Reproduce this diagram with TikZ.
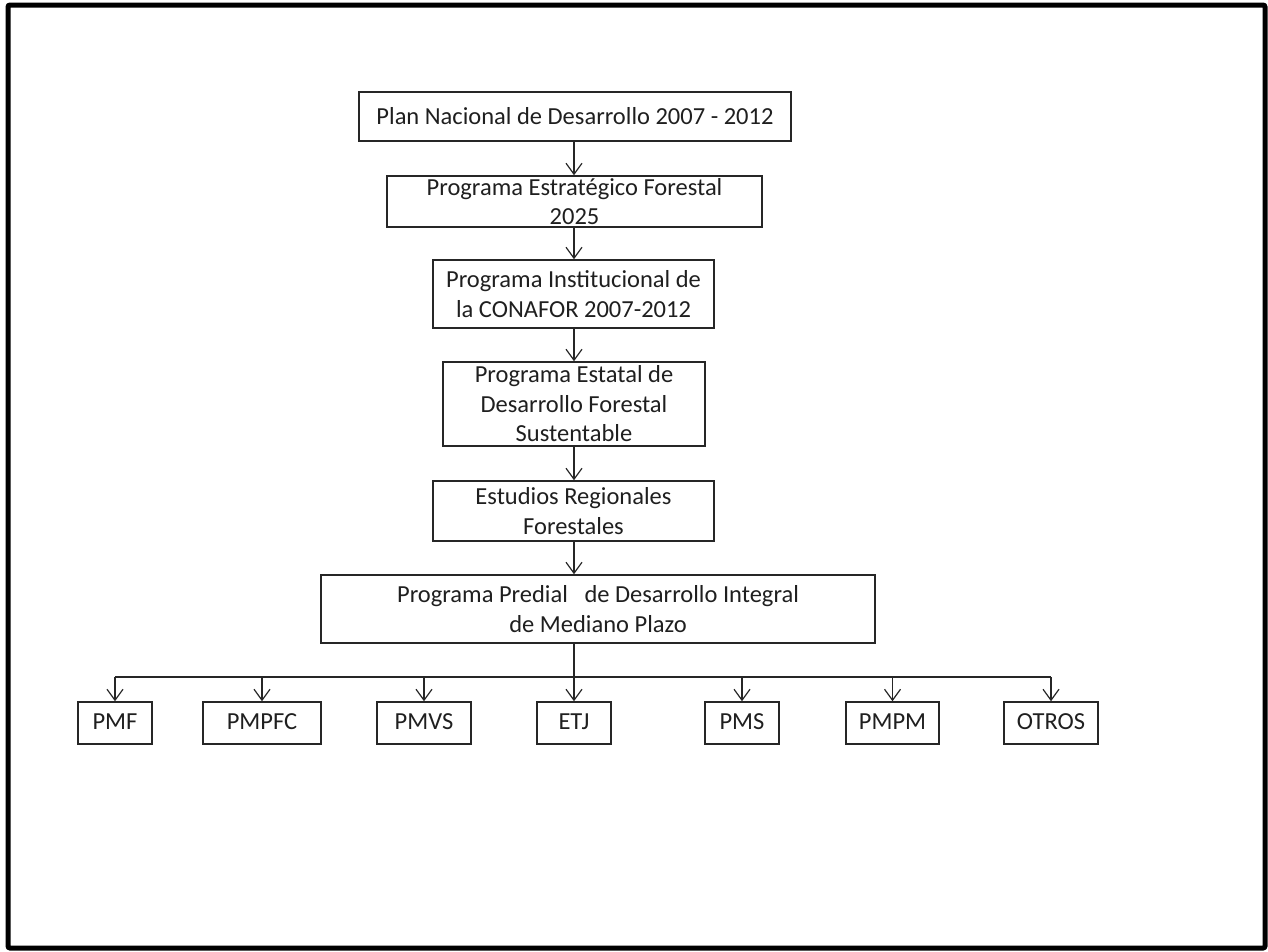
\documentclass[tikz,border=0pt]{standalone}
\usepackage{fontspec}
\setmainfont{Carlito}
\usetikzlibrary{arrows.meta}
\begin{document}
\begin{tikzpicture}[x=1pt,y=-1pt,
  box/.style={draw=black!85,line width=1.5pt,inner sep=0pt,align=center,
    text=black!88,font=\fontsize{24.5}{29.5}\selectfont},
  smallbox/.style={box,minimum height=42pt,text height=16pt,text depth=4pt},
  conn/.style={draw=black!85,line width=1.4pt},
  arr/.style={conn,-{Straight Barb[length=11pt,width=16pt,line width=1.2pt]}}]
\useasboundingbox (0,0) rectangle (1268,951);
\draw[line width=5pt,rounded corners=2pt] (8,5) rectangle (1265,948);
% main chain
\node[box,minimum width=432pt,minimum height=49pt] (b1) at (575,116.5) {Plan Nacional de Desarrollo 2007 - 2012};
\node[box,minimum width=375pt,minimum height=51pt] (b2) at (574.5,201.5) {Programa Estratégico Forestal\\2025};
\node[box,minimum width=281pt,minimum height=68pt] (b3) at (573.5,294) {Programa Institucional de\\la CONAFOR 2007-2012};
\node[box,minimum width=262pt,minimum height=84pt] (b4) at (574,404) {Programa Estatal de\\Desarrollo Forestal\\Sustentable};
\node[box,minimum width=281pt,minimum height=60pt] (b5) at (573.5,511) {Estudios Regionales\\Forestales};
\node[box,minimum width=554pt,minimum height=68pt] (b6) at (598,609) {Programa Predial\ \ \ de Desarrollo Integral\\de Mediano Plazo};
% bottom row
\node[smallbox,minimum width=74pt] (pmf) at (115,723) {PMF};
\node[smallbox,minimum width=118pt] (pmpfc) at (262,723) {PMPFC};
\node[smallbox,minimum width=94pt] (pmvs) at (424,723) {PMVS};
\node[smallbox,minimum width=74pt] (etj) at (574,723) {ETJ};
\node[smallbox,minimum width=74pt] (pms) at (742,723) {PMS};
\node[smallbox,minimum width=93pt] (pmpm) at (892.5,723) {PMPM};
\node[smallbox,minimum width=94pt] (otros) at (1051,723) {OTROS};
\coordinate (j) at (574,677);
% connectors
\draw[arr] (b1.south -| j) -- (b2.north -| j);
\draw[arr] (b2.south -| j) -- (b3.north -| j);
\draw[arr] (b3.south -| j) -- (b4.north -| j);
\draw[arr] (b4.south -| j) -- (b5.north -| j);
\draw[arr] (b5.south -| j) -- (b6.north -| j);
\draw[arr] (b6.south -| j) -- (etj.north);
\draw[conn] (pmf.north |- j) -- (otros.north |- j);
\foreach \n in {pmf,pmpfc,pmvs,pms,pmpm,otros}
  \draw[arr] (\n.north |- j) -- (\n.north);
\end{tikzpicture}
\end{document}
